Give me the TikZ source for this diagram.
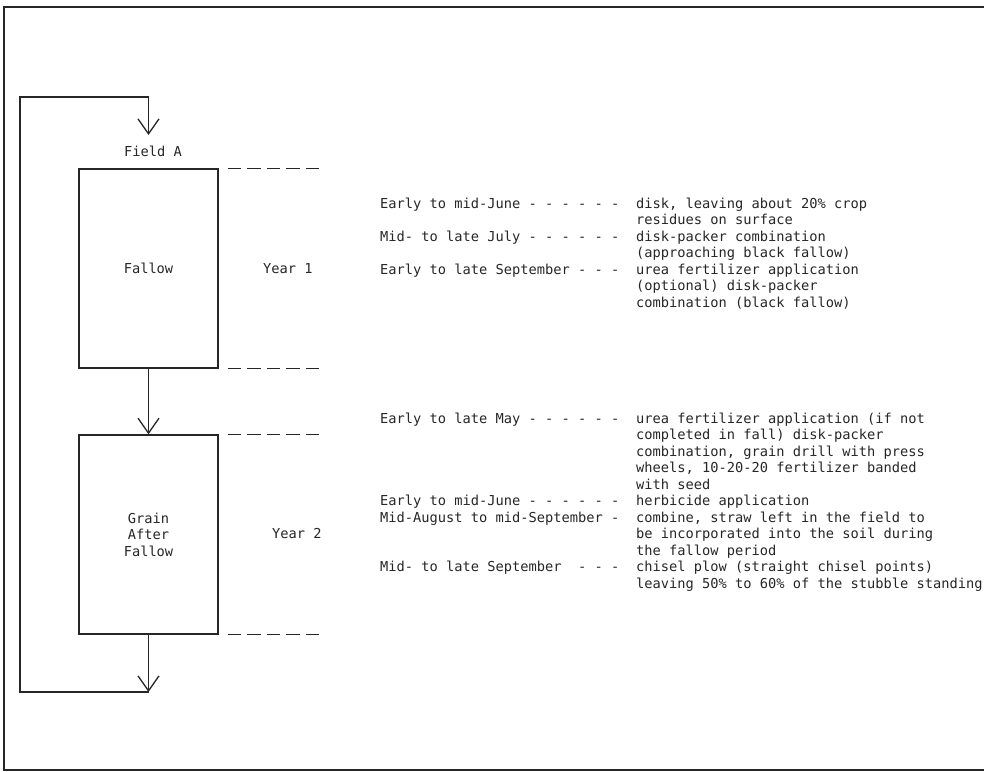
\documentclass[tikz,border=0pt]{standalone}
\usepackage{fontspec}
\newfontfamily\typewriter{DejaVu Sans Mono}
\usetikzlibrary{arrows.meta}
\definecolor{ink}{RGB}{38,38,38}
\begin{document}
\begin{tikzpicture}[x=1pt,y=-1pt,
  lbl/.style={inner sep=0pt, text=ink, font=\typewriter\fontsize{13.7pt}{16.5pt}\selectfont},
  note/.style={lbl, anchor=base west, align=left},
  plot/.style={lbl, draw=ink, line width=1.4pt, minimum width=139pt, minimum height=199pt, align=center},
  guide/.style={draw=ink, line width=1.3pt, dash pattern=on 13.5pt off 6pt},
  flow/.style={draw=ink, line width=1.3pt, -{Straight Barb[length=15pt,width=21pt,line width=1.3pt]}},
]
\useasboundingbox (0,0) rectangle (984,771);

% outer frame (open on the right)
\draw[ink, line width=2pt] (984,7) -- (4,7) -- (4,770) -- (984,770);

% field plots
\node[plot] (fallow) at (148.5,268.5) {Fallow};
\node[plot] (grain) at (148.5,534.5) {Grain\\After\\Fallow};
\node[lbl] (fieldA) at (153,151) {Field A};

% year boundaries
\draw[guide] ([xshift=9pt]fallow.north east) -- ++(91,0);
\draw[guide] ([xshift=9pt]fallow.south east) -- ++(91,0);
\draw[guide] ([xshift=9pt]grain.north east) -- ++(91,0);
\draw[guide] ([xshift=9pt]grain.south east) -- ++(91,0);

\node[lbl, anchor=base west] (year1) at (263,273) {Year 1};
\node[lbl, anchor=base west] (year2) at (272,538) {Year 2};

% rotation loop
\coordinate (retIn) at (148.5,692);
\coordinate (cornerBL) at (20,692);
\coordinate (cornerTL) at (20,97);
\coordinate (topIn) at (148.5,97);
\coordinate (entry) at (148.5,135);
\draw[flow] (fallow.south) -- (grain.north);
\draw[flow] (grain.south) -- (retIn);
\draw[flow] (retIn) -- (cornerBL) -- (cornerTL) -- (topIn) -- (entry);

% year 1 operations (multi-line notes sit on the baseline of their last line)
\node[note] (t11) at (380,208) {Early to mid-June - - - - - -};
\node[note] (o11) at (636,224.5) {disk, leaving about 20\% crop\\residues on surface};
\node[note] (t12) at (380,241) {Mid- to late July - - - - - -};
\node[note] (o12) at (636,257.5) {disk-packer combination\\(approaching black fallow)};
\node[note] (t13) at (380,274) {Early to late September - - -};
\node[note] (o13) at (636,307) {urea fertilizer application\\(optional) disk-packer\\combination (black fallow)};

% year 2 operations
\node[note] (t21) at (380,423) {Early to late May - - - - - -};
\node[note] (o21) at (636,489) {urea fertilizer application (if not\\completed in fall) disk-packer\\combination, grain drill with press\\wheels, 10-20-20 fertilizer banded\\with seed};
\node[note] (t22) at (380,505.5) {Early to mid-June - - - - - -};
\node[note] (o22) at (636,505.5) {herbicide application};
\node[note] (t23) at (380,522) {Mid-August to mid-September -};
\node[note] (o23) at (636,555) {combine, straw left in the field to\\be incorporated into the soil during\\the fallow period};
\node[note] (t24) at (380,571.5) {Mid- to late September~ - - -};
\node[note] (o24) at (636,588) {chisel plow (straight chisel points)\\leaving 50\% to 60\% of the stubble standing};
\end{tikzpicture}
\end{document}
